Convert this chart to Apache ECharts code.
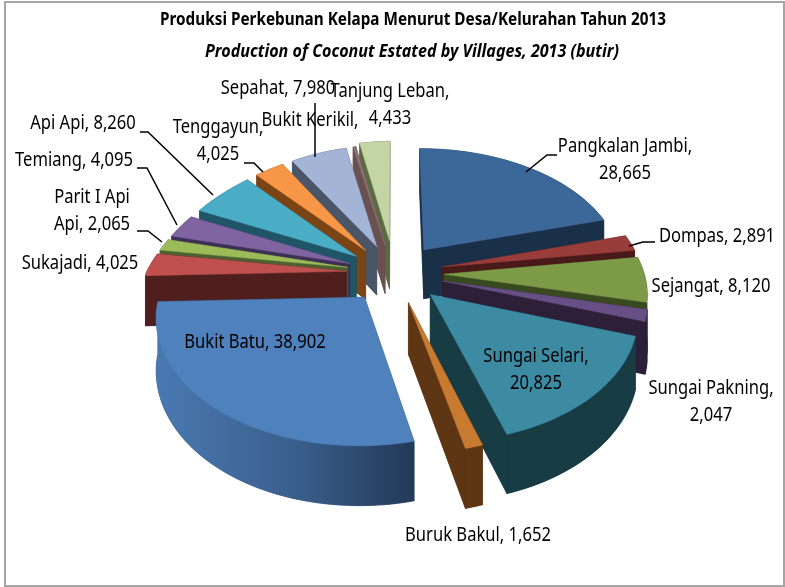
<!DOCTYPE html>
<html><head><meta charset="utf-8">
<style>html,body{margin:0;padding:0;background:#fff}#c{width:785px;height:587px}</style>
<script src="https://cdn.jsdelivr.net/npm/echarts@6/dist/echarts.min.js"></script>
</head><body><div id="c"></div>
<script>
const names = ['Bukit Batu','Sukajadi','Parit I Api Api','Temiang','Api Api','Tenggayun','Sepahat','Bukit Kerikil','Tanjung Leban','Pangkalan Jambi','Dompas','Sejangat','Sungai Pakning','Sungai Selari','Buruk Bakul'];
const values = [38902,4025,2065,4095,8260,4025,7980,400,4433,28665,2891,8120,2047,20825,1652];
const topColors = ['#4F81BD','#C0504D','#9BBB59','#8064A2','#4BACC6','#F79646','#A3B4D6','#8A7272','#C3D5A4','#3C6899','#983D3A','#7D9A48','#674F85','#3C8BA3','#C77A30'];
const wallColors = ['#2F4D73','#4F1F1E','#4E6030','#3E2F55','#1F5566','#7A4415','#4A5568','#6A5050','#5C6A44','#1A3048','#4A1A1A','#3A4A20','#2E1F38','#173C44','#5E3614'];
const explode = [.245,.245,.245,.245,.245,.245,.245,.245,.28,.245,.245,.245,.245,.245,.245];
const labelTexts = ['Bukit Batu, 38,902','Sukajadi, 4,025','Parit I Api\nApi, 2,065','Temiang, 4,095','Api Api, 8,260','Tenggayun,\n4,025','Sepahat, 7,980','Bukit Kerikil,','Tanjung Leban,\n4,433','Pangkalan Jambi,\n28,665','Dompas, 2,891','Sejangat, 8,120','Sungai Pakning,\n2,047','Sungai Selari,\n20,825','Buruk Bakul, 1,652'];
const labelAt = [[255,342],[80,263],[92,211],[74,160],[83,123],[218,141],[278,88],[310,120],[390,105],[625,160],[717,236],[711,286],[711,402],[536,370],[478,535]];
const leaders = [null,null,[[137,231],[148,231],[162,242]],[[137,168],[147,168],[177,225]],[[140,132],[148,132],[213,195]],[[244,163],[254,163],[263,172]],[[315,103],[315,157]],null,null,[[557,155],[547,155],[526,172]],[[655,242],[643,242],[629,246]],null,null,null,null];
const titleLines = ['Produksi Perkebunan Kelapa Menurut Desa/Kelurahan Tahun 2013','Production of Coconut Estated by Villages, 2013 (butir)'];
const FONT = '"Noto Sans",sans-serif';
const cx=395, cy=273, A=200, B=121, K=.137, H=50, RAD=Math.PI/180;
const total = values.reduce((a,b)=>a+b,0);
const startDeg = 166.77;
const angles = []; let acc = startDeg;
values.forEach(v=>{const s=acc; acc+=v/total*360; angles.push([s,acc]);});
const project=(X,Y,down)=>{
  const s=1/(1-K*Y);
  const backLeft=(X<0&&Y<0)?1/(1-.1*Y):1;
  return [cx+A*X*s*backLeft, cy+B*Y*s+(down?H*s:0)];
};
const order = values.map((_,i)=>i).sort((a,b)=>{
  const ya=-Math.cos((angles[a][0]+angles[a][1])/2*RAD), yb=-Math.cos((angles[b][0]+angles[b][1])/2*RAD);return ya-yb;});
function renderItem(params, api){
  const i=api.value(1), a0=angles[i][0], a1=angles[i][1];
  const mid=(a0+a1)/2*RAD, e=explode[i];
  const ox=Math.sin(mid)*e, oy=-Math.cos(mid)*e;
  const arc=[]; const n=Math.max(4,Math.ceil((a1-a0)/1.5));
  for(let k=0;k<=n;k++){const t=(a0+(a1-a0)*k/n)*RAD; arc.push([ox+Math.sin(t),oy-Math.cos(t)]);}
  const top=p=>project(p[0],p[1],false), bot=p=>project(p[0],p[1],true);
  const apex=[ox,oy];
  const wall=wallColors[i];
  const kids=[];
  const poly=(pts,fill)=>kids.push({type:'polygon',shape:{points:pts},style:{fill:fill,stroke:fill,lineWidth:.5}});
  const quad=(p,q,fill)=>poly([top(p),top(q),bot(q),bot(p)],fill);
  poly(arc.map(bot).concat([bot(apex)]),wall);
  quad(apex,arc[0],wall); quad(apex,arc[n],wall);
  const outerTop=arc.map(top), outerBot=arc.map(bot).reverse();
  let fill=wall;
  if(i===0){fill={type:'linear',global:true,x:155,y:0,x2:409,y2:0,colorStops:[{offset:0,color:'#4A79B2'},{offset:.55,color:'#3A5F8C'},{offset:1,color:'#243A5A'}]};}
  poly(outerTop.concat(outerBot),fill);
  poly(arc.map(top).concat([top(apex)]),topColors[i]);
  return {type:'group',children:kids};
}
const graphics=[];
leaders.forEach(l=>{if(l)graphics.push({type:'polyline',z:50,shape:{points:l},style:{stroke:'#000',lineWidth:1.5,fill:null}});});
labelTexts.forEach((t,i)=>graphics.push({type:'text',z:60,x:labelAt[i][0],y:labelAt[i][1],scaleX:.85,style:{text:t,font:'19.5px '+FONT,fill:'#000',align:'center',verticalAlign:'middle',lineHeight:27.5}}));
graphics.push({type:'rect',z:1,shape:{x:5,y:2,width:779,height:584},style:{fill:'none',stroke:'#A6A6A6',lineWidth:2}});
graphics.push({type:'text',z:60,x:413,y:20,scaleX:.85,style:{text:titleLines[0],font:'bold 18px '+FONT,fill:'#000',align:'center',verticalAlign:'middle'}});
graphics.push({type:'text',z:60,x:412,y:52,scaleX:.894,style:{text:titleLines[1],font:'italic bold 18px '+FONT,fill:'#000',align:'center',verticalAlign:'middle'}});
const chart=echarts.init(document.getElementById('c'),null,{renderer:'canvas'});
chart.setOption({animation:false,backgroundColor:'#fff',
  graphic:{elements:graphics},
  series:[{type:'custom',coordinateSystem:'none',renderItem,z:10,silent:true,
    data:order.map(i=>({name:names[i],value:[values[i],i]}))}]
});
</script></body></html>
